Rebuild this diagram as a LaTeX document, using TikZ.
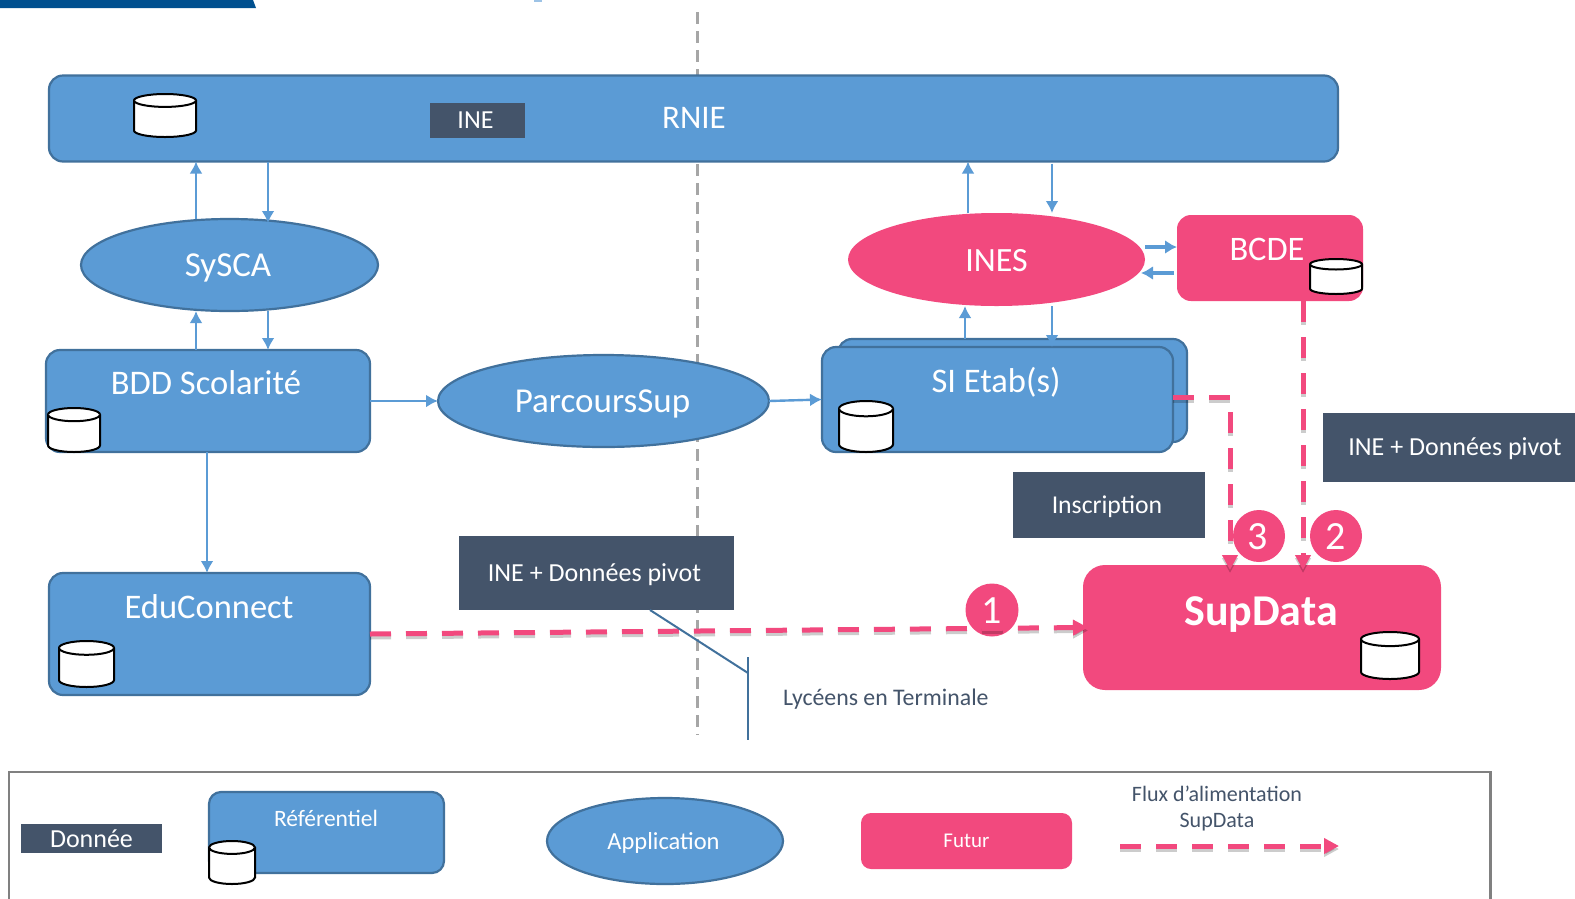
\documentclass[tikz,border=0pt]{standalone}
\usepackage{fontspec}
\setmainfont{Carlito}
\usetikzlibrary{arrows.meta,shapes.geometric}
\definecolor{bleu}{HTML}{5B9BD5}
\definecolor{bleuB}{HTML}{41719C}
\definecolor{rose}{HTML}{F2497E}
\definecolor{ardoise}{HTML}{44546A}
\definecolor{marine}{HTML}{00508F}
\newcommand{\fs}[1]{\fontsize{#1}{#1}\selectfont}
\newcommand{\low}[2]{\raisebox{-#1pt}[0pt][0pt]{#2}}
\newcommand{\dbcyl}[4]{%
  \pgfmathsetmacro{\cylrx}{(#3-#1)/2}%
  \pgfmathsetmacro{\cylry}{0.15*(#4-#2)}%
  \pgfmathsetmacro{\cylmx}{(#1+#3)/2}%
  \pgfmathsetmacro{\cylta}{#2+\cylry}%
  \pgfmathsetmacro{\cylbo}{#4-\cylry}%
  \draw[cylbody] (#1,\cylta) -- (#1,\cylbo)
     arc[start angle=180,end angle=360,x radius=\cylrx pt,y radius=\cylry pt]
     -- (#3,\cylta)
     arc[start angle=0,end angle=180,x radius=\cylrx pt,y radius=\cylry pt] -- cycle;
  \draw[cylbody] (#1,\cylta)
     arc[start angle=180,end angle=360,x radius=\cylrx pt,y radius=\cylry pt];
}
\tikzset{
  x=1pt,y=-1pt,
  base/.style={inner sep=0pt,outer sep=0pt},
  bluebox/.style={base,rectangle,draw=bleuB,fill=bleu,line width=2.2pt,rounded corners=#1},
  bluebox/.default=14pt,
  pinkbox/.style={base,rectangle,fill=rose,rounded corners=#1},
  pinkbox/.default=14pt,
  blueell/.style={base,ellipse,draw=bleuB,fill=bleu,line width=2.2pt},
  pinkell/.style={base,ellipse,fill=rose},
  darkbox/.style={base,rectangle,fill=ardoise,text=white},
  wt/.style={base,text=white},
  dt/.style={base,text=ardoise},
  num/.style={base,circle,fill=rose,text=white,font=\fs{40}},
  cylbody/.style={draw=black,fill=white,line width=2pt},
  flow/.style={draw=bleu,line width=2.4pt,-{Latex[length=12pt,width=13pt]}},
  flowb/.style={draw=bleu,line width=3.2pt,-{Latex[length=12pt,width=14pt]}},
  feed/.style={draw=rose,line width=#1,dash pattern=on 21pt off 15pt,
     -{Triangle[length=15pt,width=15pt]},
     preaction={draw=black,opacity=.2,line width=#1,dash pattern=on 21pt off 15pt,transform canvas={yshift=-3pt}}},
  feed/.default=5pt,
}
\begin{document}
\begin{tikzpicture}
\path[use as bounding box,clip] (0,0) rectangle (1575,898);
\fill[white] (0,0) rectangle (1575,898);
% header remnants
\fill[marine] (0,0) -- (253,0) -- (256,8) -- (0,8) -- cycle;
\fill[bleu!60] (534,0) rectangle (542,1.5);
% separator
\coordinate (sepT) at (697,12);
\coordinate (sepB) at (697,735);
\draw[draw=black!35,line width=3pt,dash pattern=on 12pt off 7pt] (sepT) -- (sepB);
% main nodes
\node[bluebox] (rnie) at (693.5,118.5) [minimum width=1289pt,minimum height=86pt] {};
\node[wt,font=\fs{33}] (rnieT) at (694,118) {RNIE};
\node[darkbox,font=\fs{26},minimum width=95pt,minimum height=35pt] (ine) at (477.5,120.5) {\low{8}{\hspace*{-4pt}INE}};
\node[blueell,minimum width=297pt,minimum height=92pt,font=\fs{35},text=white] (sysca) at (229.5,265) {\low{11}{\hspace*{-3pt}SySCA}};
\node[bluebox] (bdd) at (208,401) [minimum width=324pt,minimum height=102pt] {};
\node[wt,font=\fs{34.5}] (bddT) at (206,383) {BDD Scolarité};
\node[blueell,minimum width=331pt,minimum height=92pt,font=\fs{35},text=white] (ps) at (603.5,401) {\low{11}{\hspace*{-2pt}ParcoursSup}};
\node[bluebox] (edu) at (209.5,634) [minimum width=321pt,minimum height=122pt] {};
\node[wt,font=\fs{34.5}] (eduT) at (209,607) {EduConnect};
\node[pinkell,minimum width=297pt,minimum height=93pt,font=\fs{34},text=white] (ines) at (996.5,259.5) {\low{11.5}{INES}};
\node[pinkbox] (bcde) at (1270,258) [minimum width=186pt,minimum height=86pt] {};
\node[wt,font=\fs{34.4}] (bcdeT) at (1267,249.5) {BCDE};
\node[bluebox] (siB) at (1012.5,390.5) [minimum width=349pt,minimum height=103pt] {};
\node[bluebox] (si) at (997.5,399.5) [minimum width=351pt,minimum height=105pt] {};
\node[wt,font=\fs{34.5}] (siT) at (996,382) {SI Etab(s)};
\node[pinkbox=22pt] (sup) at (1262,627.5) [minimum width=358pt,minimum height=125pt] {};
\node[wt,font=\bfseries\fs{44}] (supT) at (1261,615) {SupData};
% data tags
\node[darkbox,font=\fs{26},minimum width=275pt,minimum height=74pt] (pivA) at (596.5,573) {\low{8.5}{\hspace*{-4pt}INE + Données pivot}};
\node[darkbox,minimum width=252pt,minimum height=69pt] (pivB) at (1449,447.5) {};
\node[wt,font=\fs{26}] (pivBT) at (1455,448.5) {INE + Données pivot};
\node[darkbox,font=\fs{25.7},minimum width=192pt,minimum height=66pt] (insc) at (1109,505) {\low{8.5}{\hspace*{-4pt}Inscription}};
% cylinders
\dbcyl{134}{94}{196}{137}
\dbcyl{48}{408}{100}{452}
\dbcyl{59}{641}{114}{687}
\dbcyl{1310}{259}{1362}{294}
\dbcyl{839}{401}{893}{452}
\dbcyl{1361}{632}{1419}{679}
% blue flows
\coordinate (xa) at (196,0);
\coordinate (xb) at (268,0);
\coordinate (xc) at (968,0);
\coordinate (xd) at (1052,0);
\coordinate (xe) at (965,0);
\coordinate (xf) at (207,0);
\coordinate (ya) at (0,247);
\coordinate (yb) at (0,273);
\draw[flow] (xa |- sysca.north) -- (xa |- rnie.south);
\draw[flow,shorten >=-4pt] (xb |- rnie.south) -- (xb |- sysca.north);
\draw[flow] (xa |- bdd.north) -- (xa |- sysca.south);
\draw[flow] (xb |- sysca.south) -- (xb |- bdd.north);
\draw[flow] (xc |- ines.north) -- (xc |- rnie.south);
\draw[flow,shorten <=2pt] (xd |- rnie.south) -- (xd |- ines.north);
\draw[flow] (xe |- siB.north) -- (xe |- ines.south);
\draw[flow] (xd |- ines.south) -- (xd |- si.north);
\draw[flowb] (ines.east |- ya) -- (bcde.west |- ya);
\draw[flowb,shorten <=3pt,shorten >=-4pt] (bcde.west |- yb) -- (ines.east |- yb);
\draw[flow] (bdd.east) -- (ps.west);
\draw[flow] (ps.east) -- (si.west);
\draw[flow] (xf |- bdd.south) -- (xf |- edu.north);
% callout
\coordinate (lA) at (650,610);
\coordinate (lB) at (748,673);
\coordinate (lT) at (748,657);
\coordinate (lE) at (748,740);
% numbered badges
\node[num,minimum size=53pt] (n1) at (992,610) {\low{13}{\hspace*{-1pt}1}};
\node[num,minimum size=52pt] (n3) at (1259,536) {\low{13}{\hspace*{-2pt}3}};
\node[num,minimum size=52pt] (n2) at (1336,536) {\low{13}{2}};
% pink flows
\coordinate (c3) at (1230,397);
\coordinate (c2) at (1303,0);
\draw[feed,shorten >=-5pt] (edu.east) -- (sup.west);
\draw[feed=5pt,shorten >=-5pt] (si.east |- c3) -- (c3) -- (c3 |- sup.north);
\draw[feed=5pt,shorten >=-5pt] (c2 |- bcde.south) -- (c2 |- sup.north);
\draw[draw=bleuB,line width=2pt] (pivA.south -| lA) -- (lB);
\draw[draw=bleuB,line width=2pt] (lT) -- (lE);
\node[dt,font=\fs{23.8},anchor=west] (lyc) at (783,699) {Lycéens en Terminale};
% legend
\draw[draw=black!50,line width=2.2pt] (9,772) rectangle (1490.5,930);
\node[darkbox,font=\fs{26},minimum width=141pt,minimum height=29pt] (lgD) at (91.5,838.5) {\low{8.5}{Donnée}};
\node[bluebox=12pt] (lgR) at (326.5,832.5) [minimum width=235pt,minimum height=81pt] {};
\node[wt,font=\fs{23.5}] (lgRT) at (326,818) {Référentiel};
\dbcyl{209}{841}{255}{884}
\node[blueell,minimum width=236pt,minimum height=86pt,font=\fs{24.5},text=white] (lgA) at (665,841) {\low{8}{\hspace*{-3pt}Application}};
\node[pinkbox=10pt,minimum width=211pt,minimum height=56pt,font=\fs{21},text=white] (lgF) at (966.5,841) {\low{6.5}{Futur}};
\node[dt,font=\fs{22}] (lgT1) at (1217,793.5) {Flux d’alimentation};
\node[dt,font=\fs{22}] (lgT2) at (1217,822.5) {SupData};
\coordinate (lgS) at (1120,846);
\coordinate (lgE) at (1339,846);
\draw[feed] (lgS) -- (lgE);
\end{tikzpicture}
\end{document}
